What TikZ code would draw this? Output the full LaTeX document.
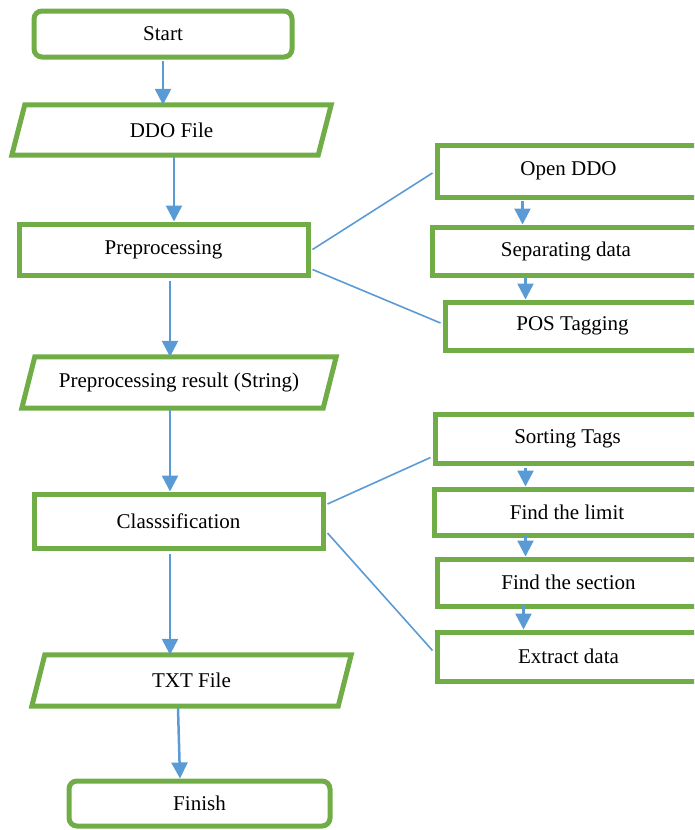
\documentclass[tikz,border=0pt]{standalone}
\usepackage{fontspec}
\setmainfont{Liberation Serif}
\usetikzlibrary{arrows.meta,calc}
\definecolor{grn}{HTML}{70AD47}
\definecolor{blu}{HTML}{5B9BD5}
\begin{document}
\begin{tikzpicture}[x=1pt,y=-1pt,
  txt/.style={font=\fontsize{21}{24}\selectfont, inner sep=0pt, align=center},
  boxg/.style={txt, draw=grn, line width=5pt, rectangle},
  rbox/.style={boxg, rounded corners=8pt},
  para/.style={txt, rectangle},
  pline/.style={draw=grn, line width=5pt, line join=miter},
  arr/.style={draw=blu, line width=2.5pt, -{Triangle[width=16pt,length=16pt]}},
  lnk/.style={draw=blu, line width=1.6pt}]
\useasboundingbox (0,0) rectangle (694,830);
\clip (0,0) rectangle (694,830);
% left column
\node[rbox, minimum width=258pt, minimum height=46pt] (start) at (163,34) {Start};
\node[para, minimum width=319pt, minimum height=50pt] (ddo) at (171.5,130) {DDO File};
\node[boxg, minimum width=289pt, minimum height=51pt] (pre) at (163.5,249.5) {Preprocessing};
\node[para, minimum width=314pt, minimum height=51pt] (res) at (179,382.5) {Preprocessing result (String)};
\node[boxg, minimum width=289pt, minimum height=54pt] (cls) at (178.5,521) {Classsification};
\node[para, minimum width=319pt, minimum height=51pt] (txtf) at (191.5,680.5) {TXT File};
\node[rbox, minimum width=261pt, minimum height=45pt] (fin) at (199.5,803.5) {Finish};
% parallelogram outlines
\foreach \p in {ddo,res,txtf}{
  \draw[pline] (\p.south west) -- ($(\p.north west)+(13,0)$) -- (\p.north east)
     -- ($(\p.south east)+(-13,0)$) -- cycle;}
% right column
\node[boxg, minimum width=263pt, minimum height=52pt] (open) at (568.5,171) {Open DDO};
\node[boxg, minimum width=268pt, minimum height=48pt] (sep) at (566,251) {Separating data};
\node[boxg, minimum width=255pt, minimum height=48pt] (pos) at (572.5,326) {POS Tagging};
\node[boxg, minimum width=265pt, minimum height=49pt] (sort) at (567.5,438.5) {Sorting Tags};
\node[boxg, minimum width=266pt, minimum height=46pt] (lim) at (567,512) {Find the limit};
\node[boxg, minimum width=263pt, minimum height=47pt] (sec) at (568.5,582.5) {Find the section};
\node[boxg, minimum width=263pt, minimum height=49pt] (ext) at (568.5,656.5) {Extract data};
% main arrows
\draw[arr] ($(start.south)+(0,1)$) -- (start.south |- ddo.north);
\draw[arr] ($(ddo.south)+(2.5,2)$) -- ($(ddo.south |- pre.north)+(2.5,0)$);
\draw[arr] ($(pre.south)+(6.5,3)$) -- ($(pre.south |- res.north)+(6.5,0)$);
\draw[arr] ($(res.south)+(-9,2)$) -- ($(res.south |- cls.north)+(-9,0)$);
\draw[arr] ($(cls.south)+(-8.5,3)$) -- ($(cls.south |- txtf.north)+(-8.5,0)$);
\draw[arr] ($(txtf.south)+(-13.5,2)$) -- ($(fin.north)+(-19.5,0)$);
% right arrows
\draw[arr] ($(open.south west)+(88,1)$) -- ($(sep.north west)+(93,0)$);
\draw[arr] ($(sep.south west)+(96,0)$) -- ($(pos.north west)+(83,0)$);
\draw[arr] ($(sort.south west)+(93,2)$) -- ($(lim.north west)+(94,0)$);
\draw[arr] ($(lim.south west)+(94,-3)$) -- ($(sec.north west)+(91,0)$);
\draw[arr] ($(sec.south west)+(89,-4)$) -- ($(ext.north west)+(89,0)$);
% links
\draw[lnk] ($(pre.east)+(2,0)$) -- ($(open.west)+(-2,2)$);
\draw[lnk] ($(pre.south east)+(2,-8)$) -- ($(pos.west)+(-2,-3)$);
\draw[lnk] ($(cls.east)+(2,-17)$) -- ($(sort.south west)+(-2,-8)$);
\draw[lnk] ($(cls.east)+(2,12)$) -- ($(ext.west)+(-2,-6)$);
\end{tikzpicture}
\end{document}
